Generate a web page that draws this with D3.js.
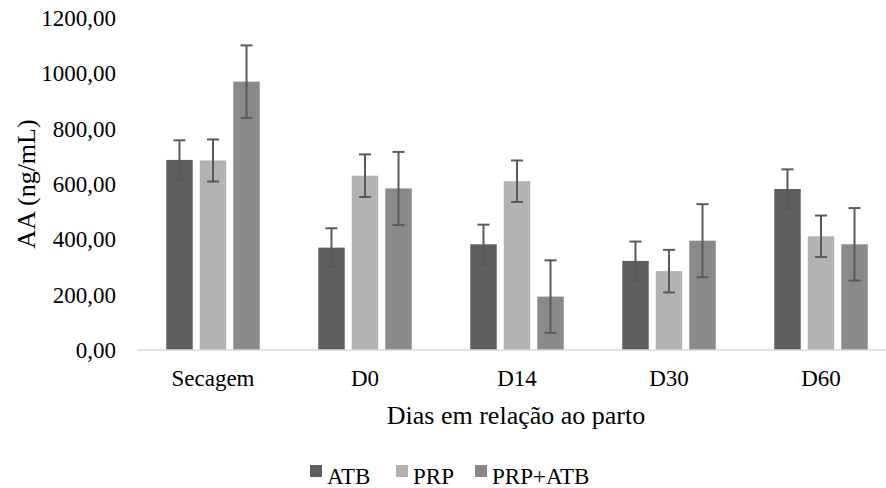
<!DOCTYPE html>
<html>
<head>
<meta charset="utf-8">
<script src="https://cdn.jsdelivr.net/npm/d3@7"></script>
<style>
  html, body { margin: 0; padding: 0; background: #fff; }
  svg text { font-family: "Liberation Serif", "DejaVu Serif", "Times New Roman", serif; }
</style>
</head>
<body>
<svg id="chart" width="886" height="488"></svg>
<script>
// data
const categories = ['Secagem', 'D0', 'D14', 'D30', 'D60'];
const series = ['ATB', 'PRP', 'PRP+ATB'];
const atbValues = [687, 370, 382, 322, 582];
const prpValues = [685, 630, 610, 285, 411];
const comboValues = [970, 584, 193, 395, 382];
const atbErrors = [71, 70, 71, 70, 71];
const prpErrors = [76, 77, 75, 77, 75];
const comboErrors = [131, 132, 131, 132, 131];
const yTicks = [0, 200, 400, 600, 800, 1000, 1200];

const colors = { 'ATB': '#5f5f5f', 'PRP': '#b2b2b2', 'PRP+ATB': '#898989' };
const FONT = '"Liberation Serif", "DejaVu Serif", "Times New Roman", serif';

const rows = categories.map((c, i) => ({
  cat: c,
  bars: [
    { key: 'ATB', value: atbValues[i], err: atbErrors[i] },
    { key: 'PRP', value: prpValues[i], err: prpErrors[i] },
    { key: 'PRP+ATB', value: comboValues[i], err: comboErrors[i] },
  ],
}));

const svg = d3.select('#chart')
  .attr('font-family', FONT);

const x0 = d3.scaleBand().domain(categories).range([137, 897]).padding(0);
const x1 = d3.scaleBand().domain(series).range([-46.75, 46.75]).paddingInner(0.21);
const y = d3.scaleLinear().domain([0, 1200]).range([350, 18]);

const ptBr = d3.formatLocale({ decimal: ',', thousands: '.', grouping: [3], currency: ['', ''] });
const fmt = ptBr.format('.2f');

// y tick labels (no axis line, no grid)
svg.append('g')
  .selectAll('text')
  .data(yTicks)
  .join('text')
  .attr('x', 116)
  .attr('y', d => y(d))
  .attr('dy', '0.35em')
  .attr('text-anchor', 'end')
  .style('font-size', '23px')
  .style('fill', '#000')
  .text(d => fmt(d));

// groups
const groups = svg.append('g')
  .selectAll('g')
  .data(rows)
  .join('g')
  .attr('transform', d => `translate(${x0(d.cat) + x0.bandwidth() / 2},0)`);

groups.selectAll('rect')
  .data(d => d.bars)
  .join('rect')
  .attr('x', d => x1(d.key))
  .attr('width', x1.bandwidth())
  .attr('y', d => y(d.value))
  .attr('height', d => y(0) - y(d.value))
  .attr('fill', d => colors[d.key]);

// x axis line
svg.append('line')
  .attr('x1', 137).attr('x2', 897)
  .attr('y1', y(0)).attr('y2', y(0))
  .style('stroke', '#d9d9d9')
  .style('stroke-width', 1.5);

// error bars
const errG = groups.selectAll('g.err')
  .data(d => d.bars)
  .join('g')
  .attr('class', 'err')
  .attr('transform', d => `translate(${x1(d.key) + x1.bandwidth() / 2},0)`)
  .style('stroke', '#595959')
  .style('stroke-width', 2);

errG.append('line')
  .attr('x1', 0).attr('x2', 0)
  .attr('y1', d => y(d.value + d.err))
  .attr('y2', d => y(d.value - d.err));
errG.append('line')
  .attr('x1', -6).attr('x2', 6)
  .attr('y1', d => y(d.value + d.err))
  .attr('y2', d => y(d.value + d.err));
errG.append('line')
  .attr('x1', -6).attr('x2', 6)
  .attr('y1', d => y(d.value - d.err))
  .attr('y2', d => y(d.value - d.err));

// x tick labels
svg.append('g')
  .selectAll('text')
  .data(categories)
  .join('text')
  .attr('x', d => x0(d) + x0.bandwidth() / 2)
  .attr('y', 386)
  .attr('text-anchor', 'middle')
  .style('font-size', '23px')
  .text(d => d);

// axis titles
svg.append('text')
  .attr('x', 516)
  .attr('y', 424)
  .attr('text-anchor', 'middle')
  .style('font-size', '26px')
  .text('Dias em relação ao parto');

svg.append('text')
  .attr('transform', 'translate(35,184) rotate(-90)')
  .attr('text-anchor', 'middle')
  .style('font-size', '26px')
  .text('AA (ng/mL)');

// legend
const legendX = { 'ATB': 310, 'PRP': 396, 'PRP+ATB': 475 };
const legend = svg.append('g')
  .selectAll('g')
  .data(series)
  .join('g')
  .attr('transform', d => `translate(${legendX[d]},0)`);

legend.append('rect')
  .attr('x', 0).attr('y', 465)
  .attr('width', 12).attr('height', 12)
  .attr('fill', d => colors[d]);

legend.append('text')
  .attr('x', 17)
  .attr('y', 484)
  .style('font-size', '23px')
  .text(d => d);
</script>
</body>
</html>
